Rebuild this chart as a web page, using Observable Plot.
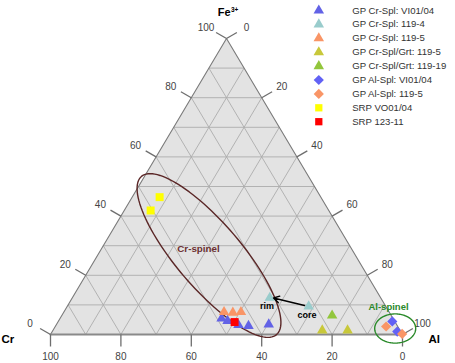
<!DOCTYPE html>
<html><head><meta charset="utf-8">
<script src="https://cdn.jsdelivr.net/npm/d3@7"></script>
<script src="https://cdn.jsdelivr.net/npm/@observablehq/plot@0.6"></script>
<style>body{margin:0;background:#fff;} svg{display:block}</style>
</head><body><div id="chart"></div>
<script>
// ---- data: compositions as [Cr, Fe3+, Al] in % ----
const seriesNames = ["GP Cr-Spl: VI01/04","GP Cr-Spl: 119-4","GP Cr-Spl: 119-5","GP Cr-Spl/Grt: 119-5","GP Cr-Spl/Grt: 119-19","GP Al-Spl: VI01/04","GP Al-Spl: 119-5","SRP VO01/04","SRP 123-11"];
const crSplVI0104 = [[48.7,5.4,45.9],[47.4,4.6,48.0],[45.0,3.2,51.8],[42.3,2.9,54.8],[36.3,3.4,60.3]];
const crSpl1194 = [[31.5,12.4,56.1],[21.9,9.5,68.6]];
const crSpl1195 = [[46.9,7.6,45.5],[44.5,7.4,48.1],[42.1,7.6,50.3]];
const crSplGrt1195 = [[22.1,1.4,76.5],[14.9,1.4,83.7]];
const crSplGrt11919 = [[16.8,6.4,76.8]];
const alSplVI0104 = [[0.7,4.4,94.9],[1.0,1.0,98.0]];
const alSpl1195 = [[3.3,2.7,94.0],[0.0,0.2,99.8]];
const srpVO0104 = [[45.8,46.4,7.8],[50.6,41.9,7.5]];
const srp12311 = [[45.6,4.2,50.2]];
const gridSteps = [10,20,30,40,50,60,70,80,90];
const tickValues = [0,20,40,60,80,100];
const cornerLabels = ["Cr","Fe","3+","Al"];
const noteLabels = ["Cr-spinel","Al-spinel","rim","core"];

// ---- styles ----
const seriesData = [crSplVI0104,crSpl1194,crSpl1195,crSplGrt1195,crSplGrt11919,alSplVI0104,alSpl1195,srpVO0104,srp12311];
const seriesStyle = [
  {symbol:"triangle", fill:"#6262e6", r:3.9},
  {symbol:"triangle", fill:"#99cccc", r:3.9},
  {symbol:"triangle", fill:"#f99566", r:3.9},
  {symbol:"triangle", fill:"#c8c83a", r:3.9},
  {symbol:"triangle", fill:"#92c63c", r:3.9},
  {symbol:"diamond2", fill:"#6262f5", r:4.6},
  {symbol:"diamond2", fill:"#f99566", r:4.6},
  {symbol:"square", fill:"#ffff00", r:4.5},
  {symbol:"square", fill:"#ff0000", r:4.5}
];

const X = d3.scaleLinear([0,100],[50,402]);
const Y = d3.scaleLinear([0,100],[334,38]);
const toXY = ([cr, fe, al]) => ({x: al + fe/2, y: fe});
const fromPx = (px, py) => ({x: X.invert(px), y: Y.invert(py)});
const shift = (p, dx, dy) => fromPx(X(p.x)+dx, Y(p.y)+dy);

// triangle outline & fill
const corners = [[100,0,0],[0,100,0],[0,0,100],[100,0,0]].map(toXY);
// grid lines
const grid = [];
for (const k of gridSteps) {
  grid.push([toXY([100-k,k,0]), toXY([0,k,100-k])]);
  grid.push([toXY([k,0,100-k]), toXY([k,100-k,0])]);
  grid.push([toXY([100-k,0,k]), toXY([0,100-k,k])]);
}
// ticks
const bottomPts = tickValues.map(v => ({p: toXY([v,0,100-v]), label: String(v)}));
const leftPts = tickValues.map(v => ({p: toXY([100-v,v,0]), label: String(v)}));
const rightPts = tickValues.map(v => ({p: toXY([0,100-v,v]), label: String(v)}));
const ticks = [
  ...bottomPts.map(d => [d.p, shift(d.p,0,12)]),
  ...leftPts.map(d => [d.p, shift(d.p,-10.4,-6)]),
  ...rightPts.map(d => [d.p, shift(d.p,10.4,-6)])
];
const tickLabels = [
  ...bottomPts.map(d => ({...shift(d.p,0,22), t:d.label})),
  ...leftPts.map(d => ({...shift(d.p,-20.5,-11), t:d.label})),
  ...rightPts.map(d => ({...shift(d.p,20,-11), t:d.label}))
];

// ellipses (annotation shapes, pixel geometry)
function ellipse(cx, cy, a, b, deg) {
  const th = deg*Math.PI/180, pts = [];
  for (let i = 0; i <= 120; i++) {
    const t = i/120*2*Math.PI;
    pts.push(fromPx(cx + a*Math.cos(t)*Math.cos(th) - b*Math.sin(t)*Math.sin(th),
                    cy + a*Math.cos(t)*Math.sin(th) + b*Math.sin(t)*Math.cos(th)));
  }
  return pts;
}
const crEll = ellipse(208.5, 255, 104, 32.5, 49.5);
const alEll = ellipse(394.7, 328, 20.5, 14.6, 0);

const font = "Liberation Sans, Arial, Helvetica, sans-serif";
const marks = [
  Plot.line(corners, {x:"x", y:"y", fill:"#e3e3e3", stroke:"none"}),
  Plot.link(grid, {x1:d=>d[0].x, y1:d=>d[0].y, x2:d=>d[1].x, y2:d=>d[1].y, stroke:"#adadad", strokeWidth:0.9}),
  Plot.line(corners.slice(0,3), {x:"x", y:"y", stroke:"#7a7a7a", strokeWidth:1.1}),
  Plot.line([corners[2],corners[3]], {x:"x", y:"y", stroke:"#8a8a8a", strokeWidth:2}),
  Plot.link(ticks, {x1:d=>d[0].x, y1:d=>d[0].y, x2:d=>d[1].x, y2:d=>d[1].y, stroke:"#6e6e6e", strokeWidth:1.3}),
  Plot.text(tickLabels, {x:"x", y:"y", text:"t", fontSize:10, fill:"#444"}),
  Plot.line(crEll, {x:"x", y:"y", stroke:"#5a2626", strokeWidth:1.4}),
  Plot.line(alEll, {x:"x", y:"y", stroke:"#2a8a2a", strokeWidth:1.4}),
];
seriesData.forEach((arr, i) => {
  marks.push(Plot.dot(arr.map(toXY), {x:"x", y:"y", ...seriesStyle[i]}));
});
// annotations
const arrowFrom = fromPx(304, 305), arrowTo = fromPx(273, 297.5);
marks.push(
  Plot.arrow([{a:arrowFrom, b:arrowTo}], {x1:d=>d.a.x, y1:d=>d.a.y, x2:d=>d.b.x, y2:d=>d.b.y, stroke:"#000", strokeWidth:1.4, headLength:7}),
  Plot.text([{...fromPx(198,248), t:noteLabels[0]}], {x:"x", y:"y", text:"t", fontSize:9.8, fontWeight:"bold", fill:"#6b3030"}),
  Plot.text([{...fromPx(388,306), t:noteLabels[1]}], {x:"x", y:"y", text:"t", fontSize:9.5, fontWeight:"bold", fill:"#2a8a2a"}),
  Plot.text([{...fromPx(266.5,305.5), t:noteLabels[2]}], {x:"x", y:"y", text:"t", fontSize:9, fontWeight:"bold", fill:"#000"}),
  Plot.text([{...fromPx(306.5,314.3), t:noteLabels[3]}], {x:"x", y:"y", text:"t", fontSize:9, fontWeight:"bold", fill:"#000"}),
  Plot.text([{...fromPx(1,339), t:cornerLabels[0]}], {x:"x", y:"y", text:"t", fontSize:11.5, fontWeight:"bold", fill:"#000", textAnchor:"start"}),
  Plot.text([{...fromPx(230,12), t:cornerLabels[1]}], {x:"x", y:"y", text:"t", fontSize:11, fontWeight:"bold", fill:"#000", textAnchor:"end"}),
  Plot.text([{...fromPx(230.5,9.5), t:cornerLabels[2]}], {x:"x", y:"y", text:"t", fontSize:6.5, fontWeight:"bold", fill:"#000", textAnchor:"start"}),
  Plot.text([{...fromPx(428,338.5), t:cornerLabels[3]}], {x:"x", y:"y", text:"t", fontSize:11.5, fontWeight:"bold", fill:"#000", textAnchor:"start"})
);
// legend
seriesNames.forEach((name, i) => {
  const rowY = 10 + 13.9*i;
  const st = seriesStyle[i];
  marks.push(Plot.dot([fromPx(318.3, rowY)], {x:"x", y:"y", symbol:st.symbol, fill:st.fill, r: st.symbol==="square" ? 4.1 : st.r}));
  marks.push(Plot.text([{...fromPx(351.7, rowY), t:name}], {x:"x", y:"y", text:"t", fontSize:9.6, fill:"#333", textAnchor:"start"}));
});

const chart = Plot.plot({
  width:455, height:363, margin:0,
  x:{domain:[0,100], range:[50,402], axis:null},
  y:{domain:[0,100], range:[334,38], axis:null},
  style:{fontFamily:font, background:"#fff", overflow:"visible"},
  marks
});
document.getElementById("chart").appendChild(chart);
</script>
</body></html>
